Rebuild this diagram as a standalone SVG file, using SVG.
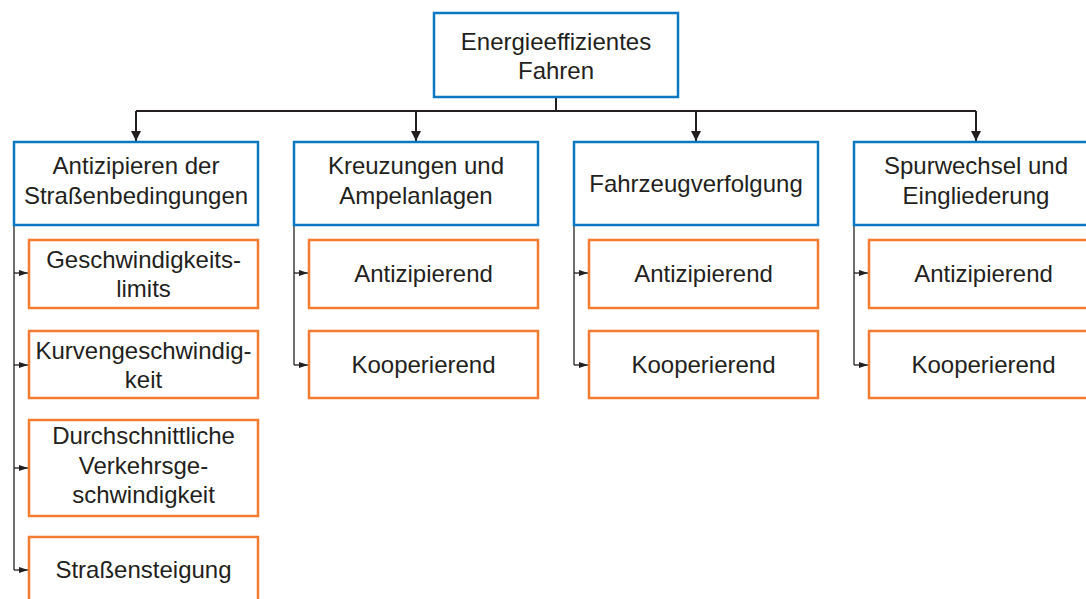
<svg xmlns="http://www.w3.org/2000/svg" width="1086" height="599" viewBox="0 0 1086 599">
<style>
.blue{fill:#fff;stroke:#0b78c1;stroke-width:2.5}
.orange{fill:#fff;stroke:#f47b30;stroke-width:2.5}
text{font-family:"Liberation Sans",Arial,sans-serif;font-size:24px;fill:#231f20;text-anchor:middle}
.main{fill:none;stroke:#231f20;stroke-width:2}
.sub{fill:none;stroke:#231f20;stroke-width:1.3}
</style>
<defs>
<marker id="ad" markerWidth="10" markerHeight="12" refX="10" refY="6" orient="auto" markerUnits="userSpaceOnUse"><path d="M0,1 L10,6 L0,11 Z" fill="#231f20"/></marker>
<marker id="as" markerWidth="9" markerHeight="8" refX="9" refY="4" orient="auto" markerUnits="userSpaceOnUse"><path d="M0,1 L9,4 L0,7 Z" fill="#231f20"/></marker>
</defs>
<rect width="1086" height="599" fill="#fff"/>
<g id="connectors">
<path class="main" d="M556,97 V111 M136,111 H976"/>
<path class="main" d="M136,111 V141" marker-end="url(#ad)"/>
<path class="main" d="M416,111 V141" marker-end="url(#ad)"/>
<path class="main" d="M696,111 V141" marker-end="url(#ad)"/>
<path class="main" d="M976,111 V141" marker-end="url(#ad)"/>
<path class="sub" d="M14,225 V570"/>
<path class="sub" d="M14,273 H28" marker-end="url(#as)"/>
<path class="sub" d="M14,365 H28" marker-end="url(#as)"/>
<path class="sub" d="M14,468 H28" marker-end="url(#as)"/>
<path class="sub" d="M14,570 H28" marker-end="url(#as)"/>
<path class="sub" d="M294,225 V365"/>
<path class="sub" d="M294,273 H308" marker-end="url(#as)"/>
<path class="sub" d="M294,365 H308" marker-end="url(#as)"/>
<path class="sub" d="M574,225 V365"/>
<path class="sub" d="M574,273 H588" marker-end="url(#as)"/>
<path class="sub" d="M574,365 H588" marker-end="url(#as)"/>
<path class="sub" d="M854,225 V365"/>
<path class="sub" d="M854,273 H868" marker-end="url(#as)"/>
<path class="sub" d="M854,365 H868" marker-end="url(#as)"/>
</g>
<g id="root"><rect class="blue" x="434" y="13" width="244" height="84"/><text x="556" y="50">Energieeffizientes</text><text x="556" y="79">Fahren</text></g>
<g id="c1"><rect class="blue" x="14" y="142" width="244" height="83"/><text x="136" y="174">Antizipieren der</text><text x="136" y="204">Straßenbedingungen</text></g>
<g id="c2"><rect class="blue" x="294" y="142" width="244" height="83"/><text x="416" y="174">Kreuzungen und</text><text x="416" y="204">Ampelanlagen</text></g>
<g id="c3"><rect class="blue" x="574" y="142" width="244" height="83"/><text x="696" y="192">Fahrzeugverfolgung</text></g>
<g id="c4"><rect class="blue" x="854" y="142" width="244" height="83"/><text x="976" y="174">Spurwechsel und</text><text x="976" y="204">Eingliederung</text></g>
<g id="c1a"><rect class="orange" x="29" y="240" width="229" height="68"/><text x="143.5" y="268">Geschwindigkeits-</text><text x="143.5" y="297">limits</text></g>
<g id="c1b"><rect class="orange" x="29" y="331" width="229" height="67"/><text x="143.5" y="359">Kurvengeschwindig-</text><text x="143.5" y="388">keit</text></g>
<g id="c1c"><rect class="orange" x="29" y="420" width="229" height="96"/><text x="143.5" y="444">Durchschnittliche</text><text x="143.5" y="474">Verkehrsge-</text><text x="143.5" y="503">schwindigkeit</text></g>
<g id="c1d"><rect class="orange" x="29" y="537" width="229" height="68"/><text x="143.5" y="578">Straßensteigung</text></g>
<g id="c2a"><rect class="orange" x="309" y="240" width="229" height="68"/><text x="423.5" y="282">Antizipierend</text></g>
<g id="c2b"><rect class="orange" x="309" y="331" width="229" height="67"/><text x="423.5" y="373">Kooperierend</text></g>
<g id="c3a"><rect class="orange" x="589" y="240" width="229" height="68"/><text x="703.5" y="282">Antizipierend</text></g>
<g id="c3b"><rect class="orange" x="589" y="331" width="229" height="67"/><text x="703.5" y="373">Kooperierend</text></g>
<g id="c4a"><rect class="orange" x="869" y="240" width="229" height="68"/><text x="983.5" y="282">Antizipierend</text></g>
<g id="c4b"><rect class="orange" x="869" y="331" width="229" height="67"/><text x="983.5" y="373">Kooperierend</text></g>
</svg>
